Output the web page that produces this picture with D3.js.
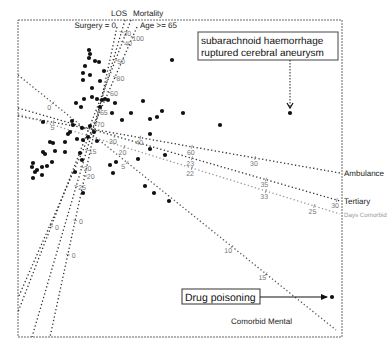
<!DOCTYPE html>
<html>
<head>
<meta charset="utf-8">
<script src="https://cdn.jsdelivr.net/npm/d3@7"></script>
<style>
  body { margin: 0; background: #fff; }
  svg { display: block; font-family: 'Liberation Sans', Arial, sans-serif; text-rendering: geometricPrecision; }
</style>
</head>
<body>
<div id="chart"></div>
<script>
// case scores (biplot coordinates)
const scoreX = [-0.1, 0.0, -0.1, 0.5, 0.9, -0.5, -0.7, 0.0, -0.7, 1.4, 1.0, 0.2, -1.4, -0.6, 0.2, 0.7, 1.2, 1.5, 1.8, 2.5,
  5.3, -0.9, 8.2, 2.2, 4.1, 7.2, 6.7, 6.0, 9.3, 20.0, 13.0, 6.0, 3.2, 1.0, -4.7, -1.8, -1.7, -2.0, -2.2, -0.8,
  0.0, 0.7, -0.2, -1.3, -2.5, -3.7, -4.0, -2.5, -4.7, -4.5, -3.5, -1.0, -3.8, -5.7, -5.8, -5.3, -4.8, -4.3, -5.5, -4.8,
  -5.7, 2.0, 2.6, 2.3, 4.8, 6.0, 7.5, 5.5, 6.4, 7.9, 24.2, 0.4, -0.7, -0.8, -0.7, -1.5];
const scoreY = [7.8, 7.4, 7.0, 6.7, 6.6, 6.2, 5.5, 5.3, 4.8, 5.7, 4.7, 4.0, 2.5, 2.9, 3.1, 2.9, 2.8, 2.9, 2.8, 2.5,
  2.7, 2.1, 6.8, 1.5, 1.5, 1.7, 1.1, 0.9, 1.5, 1.5, 0.3, -0.6, 0.8, 2.1, 0.6, 0.7, 0.3, -0.4, -0.6, 0.0,
  0.2, -1.3, -0.9, -1.1, -1.4, -1.5, -1.4, -2.4, -2.4, -2.6, -2.3, -2.5, -3.4, -3.5, -3.9, -4.2, -3.9, -3.8, -4.4, -4.7,
  -5.0, -3.7, -3.4, -4.5, -3.1, -2.1, -2.7, -5.8, -6.5, -7.3, -16.9, -0.4, -1.2, -3.2, -6.5, -4.4];

// variable axes: name, from, to
const axisNames = ['Surgery = 0', 'LOS', 'Mortality', 'Age >= 65', 'Comorbid Mental', 'Ambulance', 'Tertiary', 'Days Comorbid'];
const axisFrom = [[2.7, 10.1], [3.5, 10.8], [4.1, 10.8], [4.7, 10.1], [-7.2, 5.3], [-7.2, 1.2], [-7.2, 2.0], [-7.2, 1.4]];
const axisTo = [[-4.0, -20.9], [-5.8, -20.9], [-7.2, -18.4], [-7.2, -17.0], [24.6, -20.2], [25.0, -4.5], [25.0, -7.3], [25.0, -8.6]];
const axisShade = ['#333', '#333', '#333', '#333', '#555', '#333', '#333', '#999'];

// calibration marks: axis index, fraction along axis, label
const tickAxis = [0, 0, 0, 1, 1, 1, 1, 1, 1, 2, 2, 2, 3, 3, 3, 4, 4, 4, 4, 5, 5, 5, 5, 6, 6, 6, 6, 7, 7, 7, 7];
const tickPos = [0.48, 0.624, 0.734, 0.038, 0.29, 0.325, 0.41, 0.464, 0.524, 0.075, 0.137, 0.705, 0.037, 0.185, 0.24,
  0.11, 0.343, 0.673, 0.78, 0.11, 0.38, 0.54, 0.736, 0.3, 0.54, 0.77, 0.99, 0.33, 0.54, 0.77, 0.92];
const tickText = ['20', '0', '0', '30', '65', '70', '15', '20', '25', '40', '50', '0', '100', '80', '60',
  '0', '5', '10', '15', '5', '40', '60', '30', '30', '23', '35', '30', '20', '22', '33', '25'];

const width = 389, height = 339;
const svg = d3.select('#chart').append('svg')
  .attr('width', width)
  .attr('height', height);

const x = d3.scaleLinear().domain([-7.2, 25.2]).range([18, 342]);
const y = d3.scaleLinear().domain([10.8, -20.9]).range([20, 337]);

svg.append('defs').append('clipPath')
  .attr('id', 'plotclip')
  .append('rect')
  .attr('x', 18).attr('y', 20).attr('width', 324).attr('height', 317);

// frame
svg.append('rect')
  .attr('x', x.range()[0]).attr('y', y.range()[0])
  .attr('width', x.range()[1] - x.range()[0])
  .attr('height', y.range()[1] - y.range()[0])
  .attr('fill', 'none')
  .attr('stroke', '#666')
  .attr('stroke-width', 1)
  .attr('stroke-dasharray', '2,1');

const plot = svg.append('g').attr('clip-path', 'url(#plotclip)');

// axes lines
plot.append('g')
  .selectAll('line')
  .data(axisNames)
  .join('line')
  .attr('x1', (_d, i) => x(axisFrom[i][0]))
  .attr('y1', (_d, i) => y(axisFrom[i][1]))
  .attr('x2', (_d, i) => x(axisTo[i][0]))
  .attr('y2', (_d, i) => y(axisTo[i][1]))
  .attr('stroke', (_d, i) => axisShade[i])
  .attr('stroke-width', 1.3)
  .attr('stroke-dasharray', '1.3,2.4');

// calibration ticks
const ticks = tickText.map((label, k) => {
  const i = tickAxis[k];
  const x0 = x(axisFrom[i][0]), y0 = y(axisFrom[i][1]);
  const x1 = x(axisTo[i][0]), y1 = y(axisTo[i][1]);
  const len = Math.hypot(x1 - x0, y1 - y0);
  let nx = -(y1 - y0) / len, ny = (x1 - x0) / len;
  if (nx + ny < 0) { nx = -nx; ny = -ny; }
  const px = x0 + (x1 - x0) * tickPos[k];
  const py = y0 + (y1 - y0) * tickPos[k];
  return { label, px, py, nx, ny };
});

const tickG = plot.append('g');
tickG.selectAll('line')
  .data(ticks)
  .join('line')
  .attr('x1', d => d.px - d.nx * 2)
  .attr('y1', d => d.py - d.ny * 2)
  .attr('x2', d => d.px + d.nx * 2)
  .attr('y2', d => d.py + d.ny * 2)
  .attr('stroke', '#777')
  .attr('stroke-width', 0.8);

tickG.selectAll('text')
  .data(ticks)
  .join('text')
  .attr('x', d => d.px + d.nx * 6)
  .attr('y', d => d.py + d.ny * 6)
  .attr('text-anchor', 'middle')
  .attr('dominant-baseline', 'middle')
  .attr('font-size', '7px')
  .attr('fill', '#777')
  .text(d => d.label);

// points
plot.append('g')
  .selectAll('circle')
  .data(scoreX)
  .join('circle')
  .attr('cx', d => x(d))
  .attr('cy', (_d, i) => y(scoreY[i]))
  .attr('r', 2.1)
  .attr('fill', '#111');

// axis names
const nameG = svg.append('g').attr('font-size', '8px').attr('fill', '#222');
nameG.append('text').attr('x', x(axisFrom[1][0]) + 2).attr('y', 16).attr('text-anchor', 'end').text(axisNames[1]);
nameG.append('text').attr('x', x(axisFrom[2][0]) + 2).attr('y', 16).text(axisNames[2]);
nameG.append('text').attr('x', x(axisFrom[0][0]) - 1).attr('y', y(axisFrom[0][1]) + 1).attr('text-anchor', 'end').text(axisNames[0]);
nameG.append('text').attr('x', x(axisFrom[3][0]) + 3).attr('y', y(axisFrom[3][1]) + 1).text(axisNames[3]);
nameG.append('text').attr('x', x(axisTo[4][0]) - 44).attr('y', y(axisTo[4][1]) - 6).attr('text-anchor', 'end').text(axisNames[4]);
[5, 6, 7].forEach(i => {
  nameG.append('text')
    .attr('x', 344)
    .attr('y', y(axisTo[i][1]) + 3)
    .attr('font-size', i === 7 ? '6.2px' : '8px')
    .attr('fill', i === 7 ? '#999' : '#222')
    .text(axisNames[i]);
});

// annotation: subarachnoid haemorrhage
const sahX = x(scoreX[29]), sahY = y(scoreY[29]);
const ann1 = svg.append('g');
ann1.append('rect')
  .attr('x', 198).attr('y', 32).attr('width', 140).attr('height', 28)
  .attr('fill', '#fff').attr('stroke', '#444').attr('stroke-width', 1);
ann1.append('text').attr('x', 201).attr('y', 44).attr('font-size', '10px').attr('fill', '#111').text('subarachnoid haemorrhage');
ann1.append('text').attr('x', 201).attr('y', 56).attr('font-size', '10px').attr('fill', '#111').text('ruptured cerebral aneurysm');
ann1.append('line')
  .attr('x1', sahX).attr('y1', 60).attr('x2', sahX).attr('y2', sahY - 5)
  .attr('stroke', '#222').attr('stroke-width', 1).attr('stroke-dasharray', '1.5,1.5');
ann1.append('path')
  .attr('d', `M${sahX - 3},${sahY - 10}L${sahX},${sahY - 5}L${sahX + 3},${sahY - 10}`)
  .attr('fill', 'none').attr('stroke', '#111').attr('stroke-width', 1.2);

// annotation: drug poisoning
const drugX = x(scoreX[70]), drugY = y(scoreY[70]);
const ann2 = svg.append('g');
ann2.append('rect')
  .attr('x', 182).attr('y', drugY - 8).attr('width', 78).attr('height', 15)
  .attr('fill', '#fff').attr('stroke', '#333').attr('stroke-width', 1);
ann2.append('text').attr('x', 185).attr('y', drugY + 3.5).attr('font-size', '10.5px').attr('fill', '#111').text('Drug poisoning');
ann2.append('line')
  .attr('x1', 260).attr('y1', drugY).attr('x2', drugX - 5).attr('y2', drugY)
  .attr('stroke', '#111').attr('stroke-width', 1);
ann2.append('path')
  .attr('d', `M${drugX - 11},${drugY - 3}L${drugX - 4},${drugY}L${drugX - 11},${drugY + 3}Z`)
  .attr('fill', '#111');
</script>
</body>
</html>
